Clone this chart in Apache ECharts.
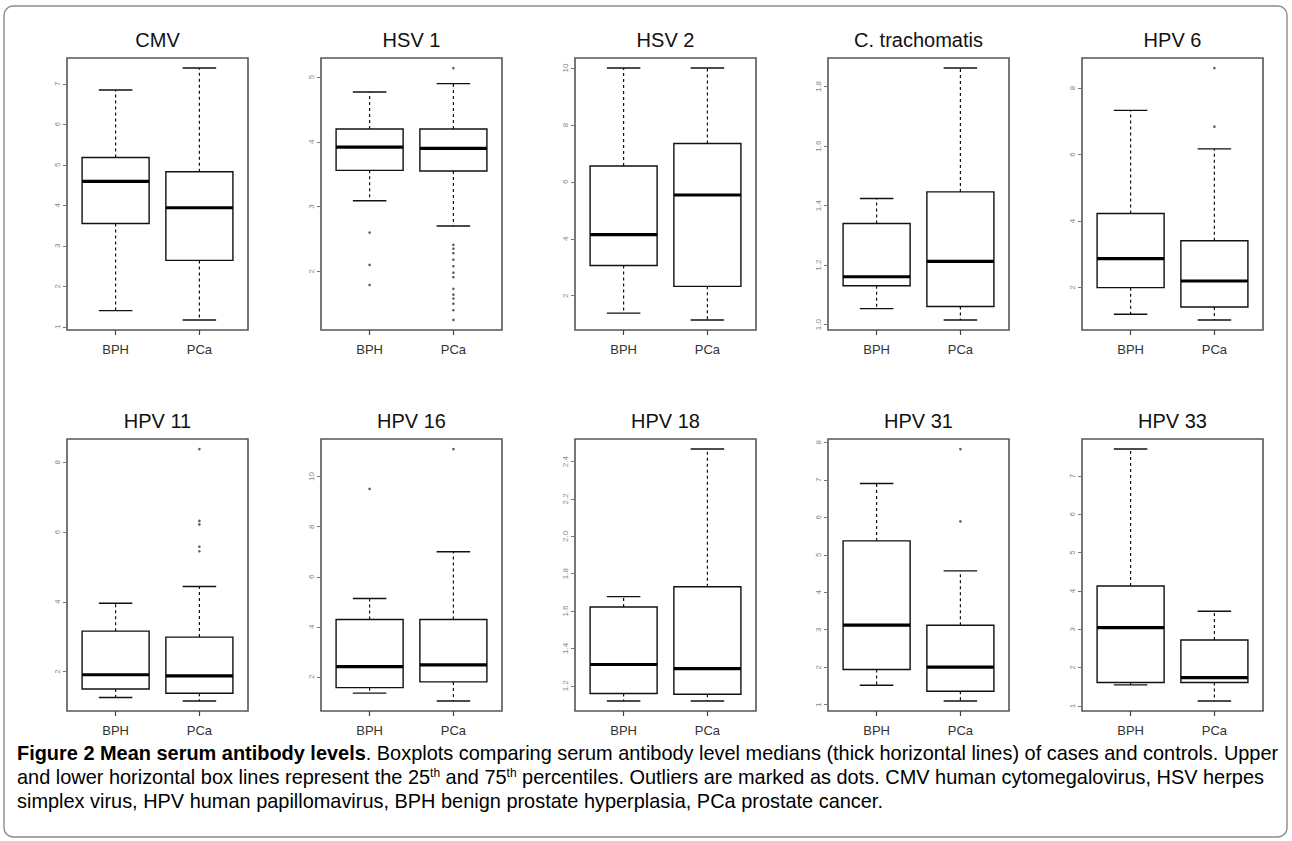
<!DOCTYPE html>
<html>
<head>
<meta charset="utf-8">
<script src="https://cdn.jsdelivr.net/npm/echarts@6/dist/echarts.min.js"></script>
<style>
html,body{margin:0;padding:0;background:#fff;}
#chart{width:1292px;height:841px;}
</style>
</head>
<body>
<div id="chart"></div>
<script>
// ---- data ----
const panelTitles = ['CMV','HSV 1','HSV 2','C. trachomatis','HPV 6','HPV 11','HPV 16','HPV 18','HPV 31','HPV 33'];
const groups = ['BPH','PCa'];
// [lower whisker, Q1, median, Q3, upper whisker]
const statsBPH = [
  [1.40,3.55,4.59,5.18,6.85],
  [3.09,3.56,3.92,4.20,4.77],
  [1.39,3.06,4.15,6.56,10.0],
  [1.054,1.131,1.161,1.340,1.424],
  [1.20,2.00,2.87,4.23,7.33],
  [1.26,1.50,1.91,3.16,3.96],
  [1.35,1.57,2.41,4.29,5.13],
  [1.119,1.159,1.314,1.622,1.677],
  [1.52,1.94,3.12,5.37,6.90],
  [1.55,1.61,3.04,4.13,7.70]
];
const statsPCa = [
  [1.17,2.64,3.94,4.83,7.39],
  [2.70,3.55,3.90,4.20,4.90],
  [1.15,2.33,5.54,7.35,10.0],
  [1.016,1.061,1.213,1.446,1.862],
  [1.03,1.42,2.20,3.41,6.17],
  [1.16,1.38,1.88,2.99,4.44],
  [1.04,1.80,2.48,4.29,7.00],
  [1.119,1.155,1.292,1.730,2.467],
  [1.10,1.36,2.00,3.12,4.57],
  [1.13,1.61,1.74,2.72,3.47]
];
const outliersBPH = [
  [],
  [2.60,2.10,1.79],
  [],
  [],
  [],
  [],
  [9.51],
  [],
  [],
  []
];
const outliersPCa = [
  [],
  [5.14,2.41,2.35,2.28,2.18,2.08,1.98,1.91,1.73,1.64,1.58,1.50,1.40,1.25],
  [],
  [],
  [8.60,6.84],
  [8.38,6.32,6.22,5.58,5.45],
  [11.1],
  [],
  [7.82,5.89],
  []
];
const yTicks = [
  [1,2,3,4,5,6,7],
  [2,3,4,5],
  [2,4,6,8,10],
  [1.0,1.2,1.4,1.6,1.8],
  [2,4,6,8],
  [2,4,6,8],
  [2,4,6,8,10],
  [1.2,1.4,1.6,1.8,2.0,2.2,2.4],
  [1,2,3,4,5,6,7,8],
  [1,2,3,4,5,6,7]
];
const tickDecimals = [0,0,0,1,0,0,0,1,0,0];
const captionLines = [
  ['Figure 2 Mean serum antibody levels', '. Boxplots comparing serum antibody level medians (thick horizontal lines) of cases and controls. Upper'],
  ['and lower horizontal box lines represent the 25', 'th', ' and 75', 'th', ' percentiles. Outliers are marked as dots. CMV human cytomegalovirus, HSV herpes'],
  ['simplex virus, HPV human papillomavirus, BPH benign prostate hyperplasia, PCa prostate cancer.']
];

// ---- layout ----
const gridLefts = [67, 321, 575, 828, 1082];
const gridW = 181;
const rowTops = [58, 439];
const gridH = 272;
const FONT = "'Liberation Sans', Arial, sans-serif";

const grids = [], xAxes = [], yAxes = [], series = [], graphics = [];

function renderBox(params, api) {
  const x = api.value(0);
  const mn = api.value(1), q1 = api.value(2), md = api.value(3), q3 = api.value(4), mx = api.value(5);
  const c = (a, b) => api.coord([a, b]);
  const hw = 0.4, cw = 0.2;
  const dash = {stroke: '#111', lineWidth: 1.2, lineDash: [3, 3], fill: null};
  const solid = {stroke: '#111', lineWidth: 1.4, fill: null};
  const top = c(x, mx), q3p = c(x, q3), q1p = c(x, q1), bot = c(x, mn);
  const lt = c(x - hw, q3), rb = c(x + hw, q1);
  const capL1 = c(x - cw, mx), capR1 = c(x + cw, mx);
  const capL2 = c(x - cw, mn), capR2 = c(x + cw, mn);
  const mL = c(x - hw, md), mR = c(x + hw, md);
  return {
    type: 'group',
    children: [
      {type: 'line', shape: {x1: q3p[0], y1: q3p[1], x2: top[0], y2: top[1]}, style: dash},
      {type: 'line', shape: {x1: q1p[0], y1: q1p[1], x2: bot[0], y2: bot[1]}, style: dash},
      {type: 'line', shape: {x1: capL1[0], y1: capL1[1], x2: capR1[0], y2: capR1[1]}, style: solid},
      {type: 'line', shape: {x1: capL2[0], y1: capL2[1], x2: capR2[0], y2: capR2[1]}, style: solid},
      {type: 'rect', shape: {x: lt[0], y: lt[1], width: rb[0] - lt[0], height: rb[1] - lt[1]},
        style: {fill: '#fff', stroke: '#111', lineWidth: 1.4}},
      {type: 'line', shape: {x1: mL[0], y1: mL[1], x2: mR[0], y2: mR[1]}, style: {stroke: '#000', lineWidth: 3.2}}
    ]
  };
}

for (let i = 0; i < 10; i++) {
  const row = Math.floor(i / 5), col = i % 5;
  const left = gridLefts[col], top = rowTops[row];
  grids.push({left: left, top: top, width: gridW, height: gridH, show: true,
    borderColor: '#555', borderWidth: 1.6, backgroundColor: '#fff'});
  const allVals = statsBPH[i].concat(statsPCa[i], outliersBPH[i], outliersPCa[i]);
  const lo = Math.min.apply(null, allVals), hi = Math.max.apply(null, allVals);
  const pad = (hi - lo) * 0.04;
  const dec = tickDecimals[i];
  yAxes.push({
    gridIndex: i, type: 'value', min: lo - pad, max: hi + pad,
    axisLine: {show: false}, splitLine: {show: false},
    axisTick: {show: true, customValues: yTicks[i], length: 4, lineStyle: {color: '#777', width: 1}},
    axisLabel: {show: true, customValues: yTicks[i], rotate: 90, fontSize: 8, color: '#888', margin: 6,
      fontFamily: FONT, formatter: v => Number(v).toFixed(dec)}
  });
  xAxes.push({
    gridIndex: i, type: 'value', min: 0.42, max: 2.58,
    axisLine: {show: false}, splitLine: {show: false},
    axisTick: {show: true, customValues: [1, 2], length: 5, lineStyle: {color: '#444', width: 1.2}},
    axisLabel: {show: true, customValues: [1, 2], fontSize: 13, color: '#333', margin: 13, fontFamily: FONT,
      formatter: v => groups[Math.round(v) - 1]}
  });
  series.push({
    type: 'custom', xAxisIndex: i, yAxisIndex: i, renderItem: renderBox,
    encode: {x: 0, y: [1, 2, 3, 4, 5]},
    data: [[1].concat(statsBPH[i]), [2].concat(statsPCa[i])],
    silent: true, animation: false
  });
  const pts = outliersBPH[i].map(v => [1, v]).concat(outliersPCa[i].map(v => [2, v]));
  if (pts.length) {
    series.push({
      type: 'scatter', xAxisIndex: i, yAxisIndex: i, data: pts,
      symbol: 'circle', symbolSize: 2.6, itemStyle: {color: '#333'}, silent: true, animation: false
    });
  }
  graphics.push({
    type: 'text', x: left + gridW / 2, y: top - 18,
    style: {text: panelTitles[i], font: "20px " + FONT, fill: '#111', textAlign: 'center', textVerticalAlign: 'middle'}
  });
}

// outer rounded frame
graphics.push({
  type: 'rect', shape: {x: 4, y: 6, width: 1283, height: 831, r: 9},
  style: {fill: null, stroke: '#8a8a8a', lineWidth: 1.4}, z: -1
});

// caption: size the font so the first line spans the frame width
const CAPFONT = "'Liberation Sans', Arial, sans-serif";
const mctx = document.createElement('canvas').getContext('2d');
function textW(str, size, bold) {
  mctx.font = (bold ? 'bold ' : '') + size + 'px ' + CAPFONT;
  return mctx.measureText(str).width;
}
const w16 = textW(captionLines[0][0], 16, true) + textW(captionLines[0][1], 16, false);
const capSize = Math.min(20.5, Math.max(14, 16 * 1262 / w16));
const LH = 21;
const rich = {
  b: {fontFamily: CAPFONT, fontSize: capSize, fontWeight: 'bold', color: '#1d58a0', lineHeight: LH},
  n: {fontFamily: CAPFONT, fontSize: capSize, color: '#333', lineHeight: LH},
  s: {fontFamily: CAPFONT, fontSize: Math.round(capSize * 0.6), color: '#333', verticalAlign: 'top', lineHeight: 12}
};
const capText = [
  '{b|' + captionLines[0][0] + '}{n|' + captionLines[0][1] + '}',
  '{n|' + captionLines[1][0] + '}{s|' + captionLines[1][1] + '}{n|' + captionLines[1][2] + '}{s|' + captionLines[1][3] + '}{n|' + captionLines[1][4] + '}',
  '{n|' + captionLines[2][0] + '}'
];
const capY = [753, 777, 801];
capText.forEach((t, k) => {
  graphics.push({
    type: 'text', x: 17, y: capY[k],
    style: {text: t, rich: rich, textVerticalAlign: 'middle', textAlign: 'left'}
  });
});

const chart = echarts.init(document.getElementById('chart'), null, {renderer: 'svg', width: 1292, height: 841});
chart.setOption({
  animation: false,
  backgroundColor: '#fff',
  grid: grids, xAxis: xAxes, yAxis: yAxes, series: series,
  graphic: graphics
});
</script>
</body>
</html>
